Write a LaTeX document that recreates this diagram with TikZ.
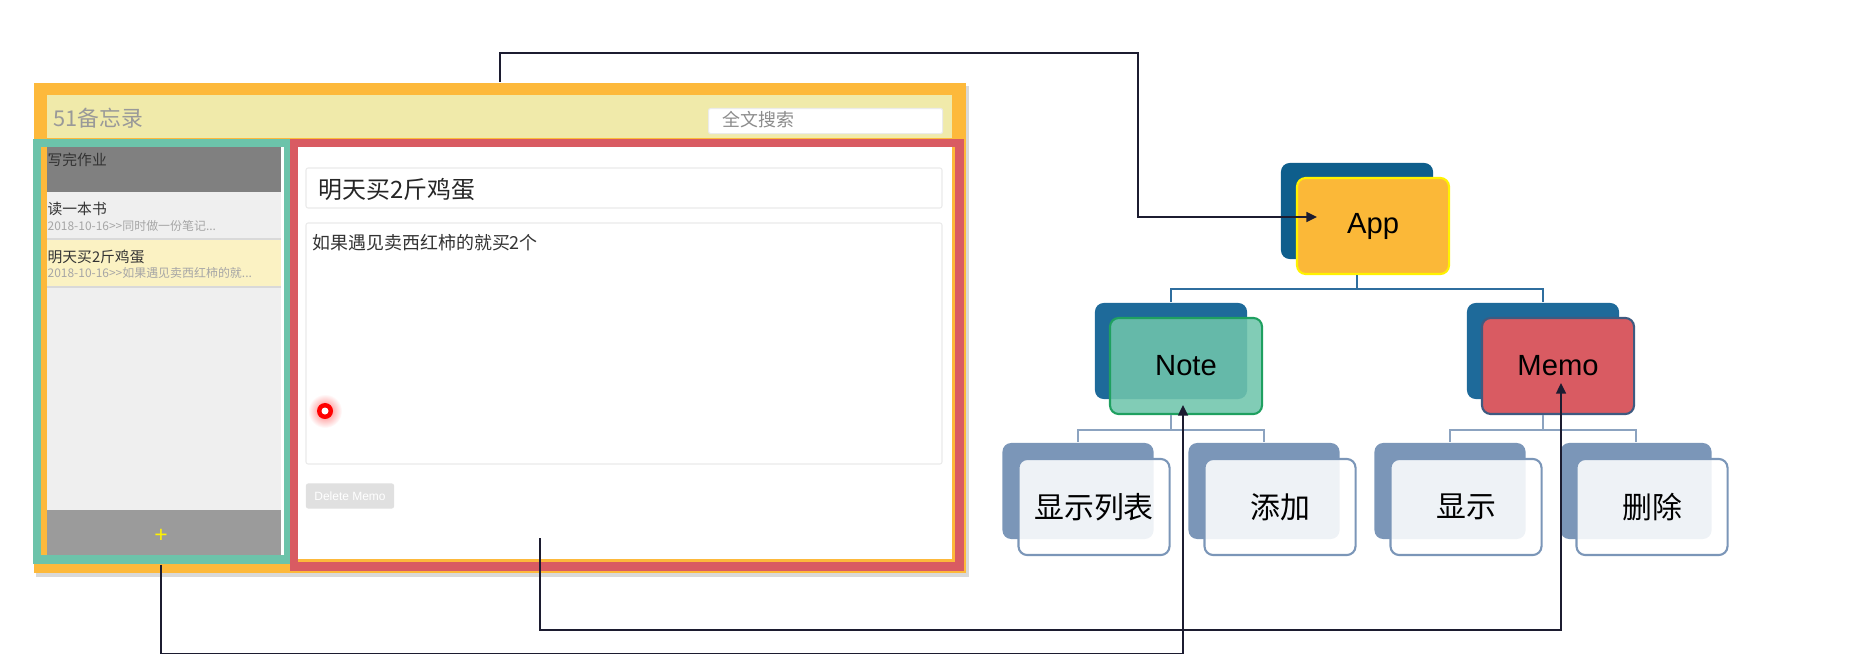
\documentclass[tikz,border=0pt]{standalone}
\usepackage{fontspec}
\setmainfont{Liberation Sans}
\newfontfamily\cjk{Noto Sans CJK SC}
\usetikzlibrary{positioning,arrows.meta,calc}
\definecolor{winorange}{HTML}{FDB93B}
\definecolor{headyellow}{HTML}{F0EAAA}
\definecolor{listteal}{HTML}{6CC3AA}
\definecolor{editred}{HTML}{D95B62}
\definecolor{listgray}{HTML}{EFEFEF}
\definecolor{headgray}{HTML}{808080}
\definecolor{footgray}{HTML}{9B9B9B}
\definecolor{selyellow}{HTML}{FBF2C3}
\definecolor{appblue}{HTML}{0E5E8C}
\definecolor{midblue}{HTML}{1E6A9A}
\definecolor{appfill}{HTML}{FBB838}
\definecolor{appline}{HTML}{FFF200}
\definecolor{notefill}{HTML}{6FC5AC}
\definecolor{noteline}{HTML}{1FA060}
\definecolor{memoline}{HTML}{3E5A80}
\definecolor{leafblue}{HTML}{7B96B8}
\definecolor{treeline}{HTML}{2F6E9E}
\definecolor{leafline}{HTML}{8CA3C0}
\definecolor{linkcol}{HTML}{1C1C30}

\begin{document}
\begin{tikzpicture}[x=0.01cm,y=-0.01cm,
  area/.style={rectangle,inner sep=0pt,anchor=north west},
  txt/.style={inner sep=0pt,anchor=west},
  backbox/.style={rectangle,rounded corners=2.5pt,minimum width=1.52cm,minimum height=0.96cm,inner sep=0pt},
  topbox/.style={backbox,font=\fontsize{8.3}{9}\selectfont,line width=0.6pt},
  leafback/.style={backbox,fill=leafblue,minimum width=1.51cm},
  leaf/.style={leafback,fill=white,fill opacity=0.88,text opacity=1,draw=leafblue,line width=0.6pt,font=\cjk\fontsize{8.5}{9}\selectfont},
  tree/.style={treeline,line width=0.5pt},
  subtree/.style={leafline,line width=0.5pt},
  link/.style={linkcol,line width=0.45pt,-{Triangle[length=3pt,width=2.8pt]}},
  field/.style={draw=black!8,fill=white,rounded corners=0.6pt,line width=0.3pt}]
  \useasboundingbox (0,0) rectangle (1864,670);

  \fill[black,opacity=0.15] (36,86) rectangle (969,577);
  \node[area,fill=winorange,minimum width=9.32cm,minimum height=4.9cm] (win) at (33,82) {};
  \fill[headyellow] (47,95) rectangle (952,138);
  \node[txt,text=black!40,font=\cjk\fontsize{6.2}{7}\selectfont] (apptitle) at (53,118) {51备忘录};
  \node[area,field,minimum width=2.34cm,minimum height=0.25cm] (search) at (708,108) {};
  \node[txt,text=black!45,font=\cjk\fontsize{5.1}{6}\selectfont] (searchtext) at (722,120) {全文搜索};

  \node[area,fill=listteal,minimum width=2.57cm,minimum height=4.25cm] (sidebar) at (32,138) {};
  \fill[winorange] (41,147) rectangle (47,555);
  \fill[white] (281,147) rectangle (284,555);
  \fill[listgray] (47,147) rectangle (281,555);
  \fill[headgray] (47,147) rectangle (281,192);
  \fill[selyellow] (47,239) rectangle (281,287);
  \draw[black!15,line width=0.3pt] (47,239) -- (281,239) (47,287) -- (281,287);
  \fill[footgray] (47,510) rectangle (281,555);
  \node[txt,text=black!80,font=\cjk\fontsize{4.2}{5}\selectfont] (todo1) at (47,160) {写完作业};
  \node[txt,text=black!80,font=\cjk\fontsize{4.2}{5}\selectfont] (todo2) at (47,209) {读一本书};
  \node[txt,text=black!35,font=\cjk\fontsize{3.4}{4}\selectfont] (date2) at (47,226) {2018-10-16>>同时做一份笔记...};
  \node[txt,text=black!80,font=\cjk\fontsize{4.2}{5}\selectfont] (todo3) at (47,257) {明天买2斤鸡蛋};
  \node[txt,text=black!35,font=\cjk\fontsize{3.4}{4}\selectfont] (date3) at (47,273) {2018-10-16>>如果遇见卖西红柿的就...};
  \node[inner sep=0pt,text=yellow,font=\fontsize{6.5}{7}\selectfont] (addbtn) at (161,536) {+};

  \node[area,fill=editred,minimum width=6.74cm,minimum height=4.32cm] (editor) at (289,138) {};
  \fill[winorange] (298,147) rectangle (955,562);
  \fill[white] (298,147) rectangle (952,559);
  \draw[field] (306,168) rectangle (942,208);
  \draw[field] (306,223) rectangle (942,464);
  \node[txt,text=black!85,font=\cjk\fontsize{6.8}{8}\selectfont] (memotitle) at (318,190) {明天买2斤鸡蛋};
  \node[txt,text=black!80,font=\cjk\fontsize{5.1}{6}\selectfont] (memobody) at (312,243) {如果遇见卖西红柿的就买2个};
  \node[fill=black!12,rounded corners=0.6pt,minimum width=0.88cm,minimum height=0.25cm,inner sep=0pt,text=white,font=\fontsize{3.4}{4}\selectfont] (delbtn) at (350,496) {Delete Memo};
  \shade[inner color=red!55,outer color=white] (325,411) circle (0.17cm);
  \fill[red] (325,411) circle (0.08cm);
  \fill[white] (325,411) circle (0.035cm);

  \node[backbox,fill=appblue] (appbk) at (1357,211) {};
  \node[topbox,fill=appfill,draw=appline] (app) at (1373,226) {App};
  \node[backbox,fill=midblue] (notebk) at (1171,351) {};
  \node[topbox,fill=notefill,fill opacity=0.88,text opacity=1,draw=noteline] (note) at (1186,366) {Note};
  \node[backbox,fill=midblue] (memobk) at (1543,351) {};
  \node[topbox,fill=editred,draw=memoline] (memo) at (1558,366) {Memo};
  \foreach \x/\name/\label in {1078/showlist/显示列表,1264/addnote/添加,1450/showmemo/显示,1636/delmemo/删除} {
    \node[leafback] (\name bk) at (\x,491) {};
    \node[leaf] (\name) at (\x+16,507) {\label};
  }

  \draw[tree] (app.south -| appbk) -- ++(0,14) -| (notebk.north);
  \draw[tree] (app.south -| appbk) -- ++(0,14) -| (memobk.north);
  \draw[subtree] (note.south -| notebk) -- ++(0,15) -| (showlistbk.north);
  \draw[subtree] (note.south -| notebk) -- ++(0,15) -| (addnotebk.north);
  \draw[subtree] (memo.south -| memobk) -- ++(0,15) -| (showmemobk.north);
  \draw[subtree] (memo.south -| memobk) -- ++(0,15) -| (delmemobk.north);

  \coordinate (editpin) at (540,538);
  \coordinate (apptip) at (1317,217);
  \coordinate (notetip) at (1183,405);
  \coordinate (memotip) at (1561,383);
  \draw[link] (win.north) -- ++(0,-29) -| ([xshift=-1.79cm]apptip) -- (apptip);
  \draw[link] (sidebar.south) -- ++(0,89) -| (notetip);
  \draw[link] (editpin) -- ++(0,92) -| (memotip);
\end{tikzpicture}
\end{document}
